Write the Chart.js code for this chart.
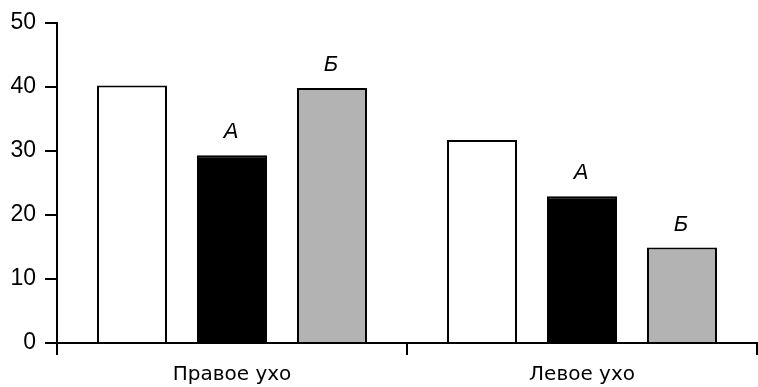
<!DOCTYPE html>
<html lang="ru">
<head>
<meta charset="UTF-8">
<title>Уши</title>
<script src="https://cdn.jsdelivr.net/npm/chart.js"></script>
<style>
  html, body { margin: 0; padding: 0; background: #fff; }
  #wrap { width: 758px; height: 387px; }
</style>
</head>
<body>
<div id="wrap"><canvas id="grafico"></canvas></div>
<script>
  // данные
  const categorias = ['Правое ухо', 'Левое ухо'];
  const serieBranca = [40.2, 31.7];
  const seriePreta = [29.3, 22.9];
  const serieCinza = [39.8, 14.9];
  const rotulos = ['', 'А', 'Б'];

  // подписи над столбцами
  const rotulosPlugin = {
    id: 'rotulos',
    afterDatasetsDraw(chart) {
      const ctx = chart.ctx;
      ctx.save();
      ctx.fillStyle = '#000';
      ctx.font = 'italic 22px "Liberation Sans", Arial, sans-serif';
      ctx.textAlign = 'center';
      ctx.textBaseline = 'middle';
      chart.data.datasets.forEach(function (ds, i) {
        if (!rotulos[i]) return;
        chart.getDatasetMeta(i).data.forEach(function (el) {
          ctx.fillText(rotulos[i], el.x - 1, el.y - 23);
        });
      });
      ctx.restore();
    }
  };

  new Chart(document.getElementById('grafico'), {
    type: 'bar',
    data: {
      labels: categorias,
      datasets: [
        { data: serieBranca, backgroundColor: '#fff', borderColor: '#000', borderWidth: 2 },
        { data: seriePreta, backgroundColor: '#000', borderColor: '#000', borderWidth: 2 },
        { data: serieCinza, backgroundColor: '#b3b3b3', borderColor: '#000', borderWidth: 2 }
      ]
    },
    options: {
      responsive: true,
      maintainAspectRatio: false,
      animation: false,
      categoryPercentage: 0.857,
      barPercentage: 0.7,
      layout: { padding: { top: 20, right: 1, left: 0, bottom: 0 } },
      plugins: { legend: { display: false }, tooltip: { enabled: false } },
      scales: {
        x: {
          grid: { drawOnChartArea: false, drawTicks: true, tickLength: 12, color: '#000', lineWidth: 2 },
          border: { display: true, color: '#000', width: 2 },
          ticks: { color: '#000', padding: 8, font: { family: '"DejaVu Sans", sans-serif', size: 20 } },
          afterFit: function (s) { s.height = 44; }
        },
        y: {
          min: 0,
          max: 50,
          grid: { drawOnChartArea: false, drawTicks: true, tickLength: 12, color: '#000', lineWidth: 2 },
          border: { display: true, color: '#000', width: 2 },
          ticks: { stepSize: 10, color: '#000', padding: 9, font: { family: '"Liberation Sans", Arial, sans-serif', size: 23 } },
          afterFit: function (s) { s.width = 57; }
        }
      }
    },
    plugins: [rotulosPlugin]
  });
</script>
</body>
</html>
